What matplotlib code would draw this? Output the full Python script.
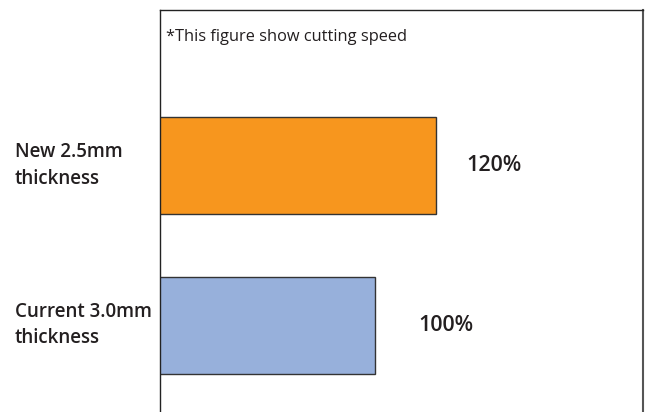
import matplotlib
matplotlib.use("Agg")
import matplotlib.pyplot as plt
from matplotlib.transforms import blended_transform_factory, offset_copy

categories = ["Current 3.0mm\nthickness", "New 2.5mm\nthickness"]
speed = [100, 120]
value_labels = ["100%", "120%"]
note = "*This figure show cutting speed"
colors = ["#97B0DB", "#F7961E"]

plt.rcParams["font.family"] = ["Open Sans", "DejaVu Sans"]

W, H = 648, 412
fig = plt.figure(figsize=(W / 100, H / 100), dpi=100)
ax = fig.add_axes([160 / W, 0.0, 483 / W, 402 / H])

ypos = [0, 1]
ax.barh(ypos, speed, height=0.608, color=colors, edgecolor="#333333", linewidth=1.0, zorder=2)

ax.set_xlim(29.5, 188)
ax.set_ylim(-0.545, 1.975)
ax.set_xticks([])
ax.set_yticks([])
for s in ["top", "left"]:
    ax.spines[s].set_color("#222222")
    ax.spines[s].set_linewidth(1.0)
ax.spines["right"].set_color("#555555")
ax.spines["right"].set_linewidth(1.5)
ax.spines["bottom"].set_visible(False)

# category labels at left of figure
tr = blended_transform_factory(fig.transFigure, ax.transData)
for y, lab in zip(ypos, categories):
    ax.text(15 / W, y, lab, transform=tr, ha="left", va="center",
            fontsize=13.5, fontweight="semibold", color="#231F20", linespacing=1.45)

# value labels
pads = [44, 31]
for y, v, lab, p in zip(ypos, speed, value_labels, pads):
    t = offset_copy(ax.transData, fig=fig, x=p * 72 / 100, y=0, units="points")
    ax.text(v, y, lab, transform=t, ha="left", va="center",
            fontsize=15.5, fontweight="semibold", color="#231F20")

ax.text(6 / 483, 1 - 27 / 402, note, transform=ax.transAxes, ha="left", va="center",
        fontsize=11.8, color="#231F20")

fig.savefig("out.png", dpi=100)
